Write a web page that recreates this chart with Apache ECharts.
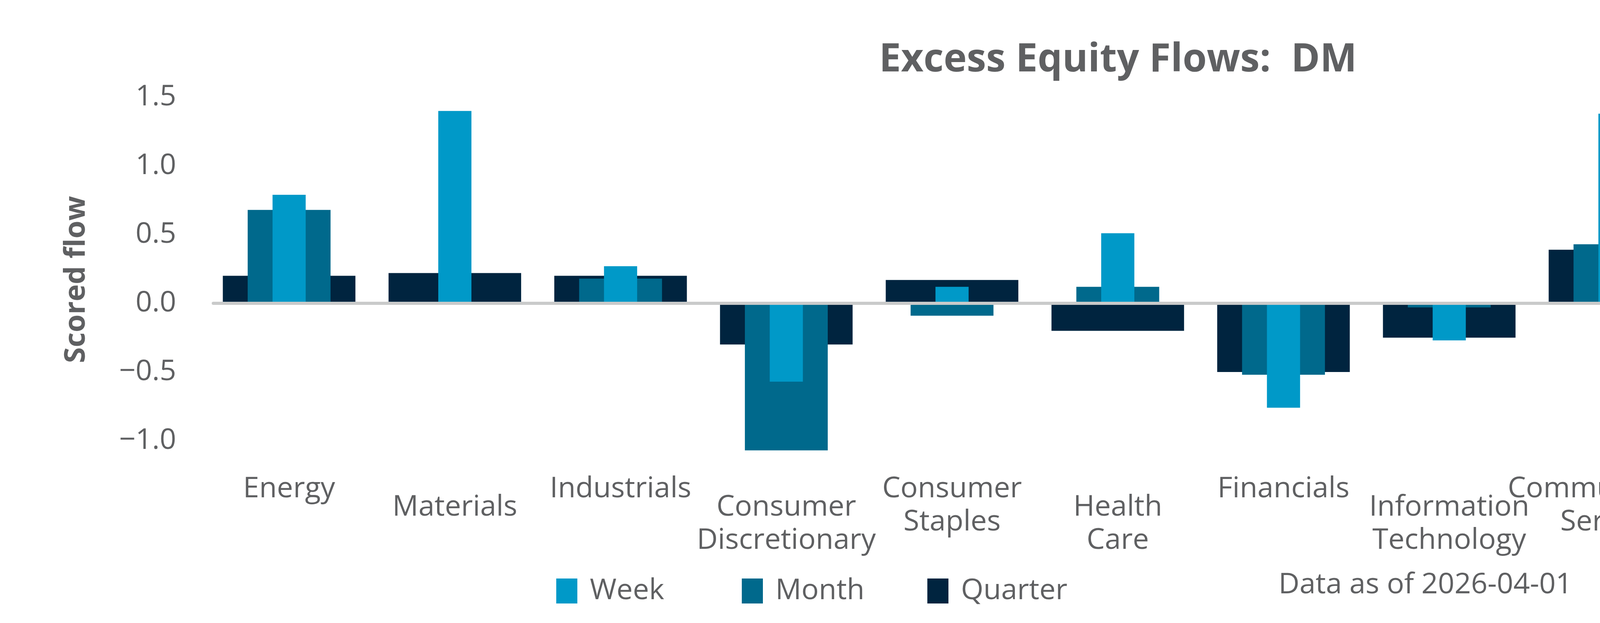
<!DOCTYPE html>
<html>
<head>
<meta charset="utf-8">
<script src="https://cdn.jsdelivr.net/npm/echarts@6/dist/echarts.min.js"></script>
<style>
html,body{margin:0;padding:0;background:#fff;}
#chart{width:5400px;height:1596px;}
</style>
</head>
<body>
<div id="chart"></div>
<script>
const categories = ['Energy','Materials','Industrials','Consumer Discretionary','Consumer Staples','Health Care','Financials','Information Technology','Communication Services','Utilities','Real Estate'];
const weekValues = [0.79, 1.40, 0.27, -0.57, 0.12, 0.51, -0.76, -0.27, 1.38, 0.51, 0.12];
const monthValues = [0.68, 0.00, 0.18, -1.07, -0.09, 0.12, -0.52, -0.03, 0.43, 0.00, -0.03];
const quarterValues = [0.20, 0.22, 0.20, -0.30, 0.17, -0.20, -0.50, -0.25, 0.39, 0.16, -0.08];
const seriesNames = ['Week','Month','Quarter'];
const yTicks = {min: -1.0, max: 1.5, interval: 0.5};
const titleText = 'Excess Equity Flows:  DM';
const yAxisTitle = 'Scored flow';
const dataNote = 'Data as of 2026-04-01';
const sourceNote = 'Sources:  BNY, MSCI';

const FONT = '"Open Sans", "Noto Sans", sans-serif';
const GREY = '#5f6062';
const C_WEEK = '#0099c8';
const C_MONTH = '#00698c';
const C_QUARTER = '#00243f';

const GRID = {left: 528, right: 205, top: 249, bottom: 467};
const wrap = v => v.replace(' ', '\n');

function catAxis(parity) {
  return {
    type: 'category', gridIndex: 0, data: categories, position: 'bottom',
    axisLine: {show: false, onZero: false},
    axisTick: {show: false},
    splitLine: {show: false},
    axisLabel: parity === null ? {show: false} : {
      show: true, interval: 0, hideOverlap: false,
      margin: parity === 0 ? 81 : 128,
      fontFamily: FONT, fontSize: 74, lineHeight: 85, color: GREY,
      formatter: (v, i) => (i % 2 === parity ? wrap(v) : '')
    }
  };
}

const chart = echarts.init(document.getElementById('chart'), null, {renderer: 'canvas'});
chart.setOption({
  animation: false,
  backgroundColor: '#ffffff',
  title: {
    text: titleText, left: 2862, top: 105, textAlign: 'center', padding: 0,
    textStyle: {fontFamily: FONT, fontWeight: 'bold', fontSize: 100, lineHeight: 100, color: GREY}
  },
  legend: {
    data: seriesNames, left: 1424, top: 1469, padding: 0, itemGap: 0,
    itemWidth: 54, itemHeight: 64, icon: 'rect',
    textStyle: {fontFamily: FONT, fontSize: 74, lineHeight: 64, color: GREY, padding: [0, 0, 26, 27], width: 389}
  },
  grid: [
    {left: GRID.left, right: GRID.right, top: GRID.top, bottom: GRID.bottom, containLabel: false, outerBoundsMode: 'none'},
    {left: 546, right: 222, top: GRID.top, bottom: GRID.bottom, containLabel: false, outerBoundsMode: 'none'}
  ],
  xAxis: [
    catAxis(0),
    catAxis(1),
    catAxis(null),
    {
      type: 'category', gridIndex: 1, data: categories, z: 10, position: 'bottom',
      axisLine: {show: true, onZero: true, lineStyle: {color: '#c9caca', width: 8}},
      axisTick: {show: false}, axisLabel: {show: false}, splitLine: {show: false}
    }
  ],
  yAxis: [
    {
      type: 'value', gridIndex: 0, min: yTicks.min, max: yTicks.max, interval: yTicks.interval,
      axisLine: {show: false}, axisTick: {show: false}, splitLine: {show: false},
      axisLabel: {
        margin: 77, fontFamily: FONT, fontSize: 74, color: GREY,
        formatter: v => (v < 0 ? '\u2212' : '') + Math.abs(v).toFixed(1)
      }
    },
    {
      type: 'value', gridIndex: 1, min: yTicks.min, max: yTicks.max, interval: yTicks.interval, show: false
    }
  ],
  graphic: [
    {type: 'text', x: 196, y: 716, rotation: Math.PI / 2,
     style: {text: yAxisTitle, align: 'center', verticalAlign: 'middle', fontFamily: FONT, fontWeight: 'bold', fontSize: 74, fill: GREY}},
    {type: 'text', x: 3273, y: 1499,
     style: {text: dataNote, align: 'left', verticalAlign: 'middle', fontFamily: FONT, fontSize: 74, fill: GREY}},
    {type: 'text', x: 4303, y: 1499,
     style: {text: sourceNote, align: 'left', verticalAlign: 'middle', fontFamily: FONT, fontSize: 74, fill: GREY}}
  ],
  series: [
    {name: 'Quarter', type: 'bar', xAxisIndex: 0, yAxisIndex: 0, data: quarterValues, barWidth: '80%', clip: false, itemStyle: {color: C_QUARTER}},
    {name: 'Month', type: 'bar', xAxisIndex: 1, yAxisIndex: 0, data: monthValues, barWidth: '50%', clip: false, itemStyle: {color: C_MONTH}},
    {name: 'Week', type: 'bar', xAxisIndex: 2, yAxisIndex: 0, data: weekValues, barWidth: '20%', clip: false, itemStyle: {color: C_WEEK}}
  ]
});
</script>
</body>
</html>
